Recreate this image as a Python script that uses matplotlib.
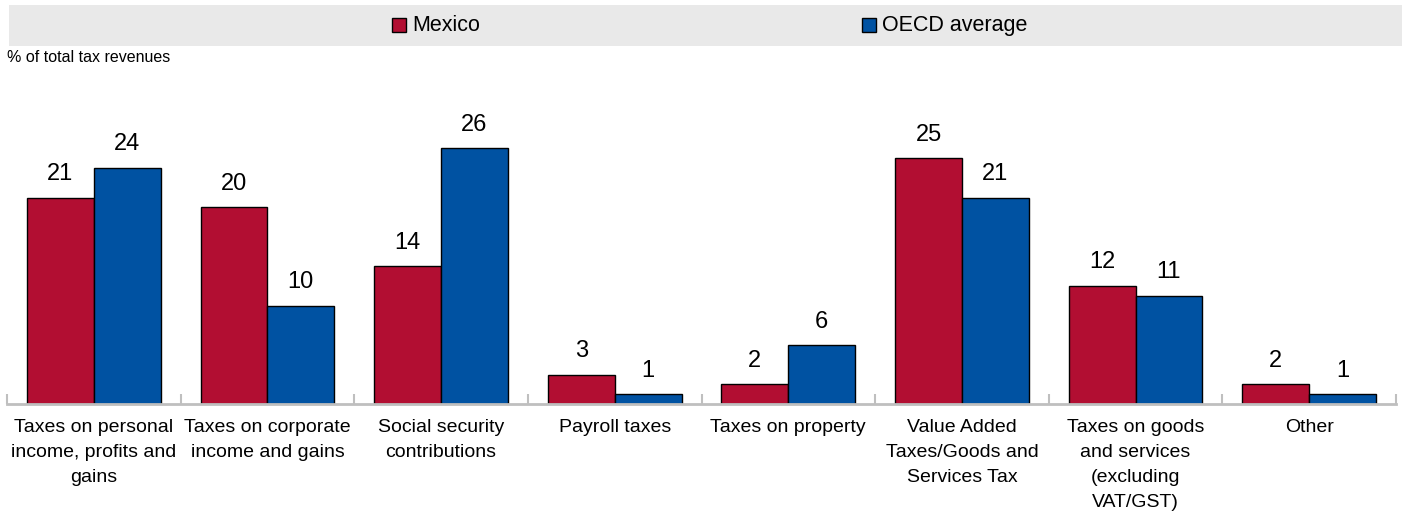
import matplotlib.pyplot as plt
import matplotlib.patches as mpatches
import numpy as np

plt.rcParams['font.family'] = ['Liberation Sans', 'DejaVu Sans']

# Dados (% of total tax revenues)
categorias = ['Taxes on personal\nincome, profits and\ngains',
              'Taxes on corporate\nincome and gains',
              'Social security\ncontributions',
              'Payroll taxes',
              'Taxes on property',
              'Value Added\nTaxes/Goods and\nServices Tax',
              'Taxes on goods\nand services\n(excluding\nVAT/GST)',
              'Other']
mexico = [21, 20, 14, 3, 2, 25, 12, 2]
oecd = [24, 10, 26, 1, 6, 21, 11, 1]
series = ['Mexico', 'OECD average']

cor_mex = '#B20E32'
cor_oecd = '#0052A2'

W, H = 1407, 521
fig = plt.figure(figsize=(W / 100, H / 100), dpi=100)
ax = fig.add_axes([7 / W, 1 - 404 / H, (1396 - 7) / W, (404 - 109) / H])

x = np.arange(len(categorias))
width = 0.385

bars1 = ax.bar(x - width / 2, mexico, width, color=cor_mex, edgecolor='black', linewidth=1.0)
bars2 = ax.bar(x + width / 2, oecd, width, color=cor_oecd, edgecolor='black', linewidth=1.0)

ax.set_xlim(-0.5, len(categorias) - 0.5)
ax.set_ylim(0, 30)

# Valores nas barras
for bars in [bars1, bars2]:
    for bar in bars:
        h = bar.get_height()
        ax.annotate(f'{h:.0f}', (bar.get_x() + bar.get_width() / 2, h),
                    xytext=(0, 9), textcoords='offset points',
                    ha='center', va='bottom', fontsize=17)

# Eixos
for s in ['top', 'right', 'left']:
    ax.spines[s].set_visible(False)
ax.spines['bottom'].set_color('#BFBFBF')
ax.spines['bottom'].set_linewidth(2)
ax.set_yticks([])
ax.set_xticks(x)
ax.set_xticklabels(categorias, fontsize=14, linespacing=1.62)
ax.tick_params(axis='x', which='major', length=0, pad=11)
ax.set_xticks(np.arange(-0.5, len(categorias)), minor=True)
ax.tick_params(axis='x', which='minor', direction='in', length=7, width=1.5, color='#BFBFBF')

# Faixa da legenda
fig.patches.append(mpatches.Rectangle((9 / W, 1 - 45.5 / H), (1402 - 9) / W, 40.5 / H,
                                      transform=fig.transFigure, facecolor='#E9E9E9',
                                      edgecolor='none', zorder=0))
for px, cor, nome in [(392, cor_mex, series[0]), (862, cor_oecd, series[1])]:
    fig.patches.append(mpatches.Rectangle((px / W, 1 - 32 / H), 14 / W, 14 / H,
                                          transform=fig.transFigure, facecolor=cor,
                                          edgecolor='black', linewidth=1.0))
    fig.text((px + 20) / W, 1 - 25.5 / H, nome, fontsize=15.5, va='center', ha='left')

fig.text(7 / W, 1 - 50 / H, '% of total tax revenues', fontsize=11.5, va='top', ha='left')

plt.savefig('out.png', dpi=100)
